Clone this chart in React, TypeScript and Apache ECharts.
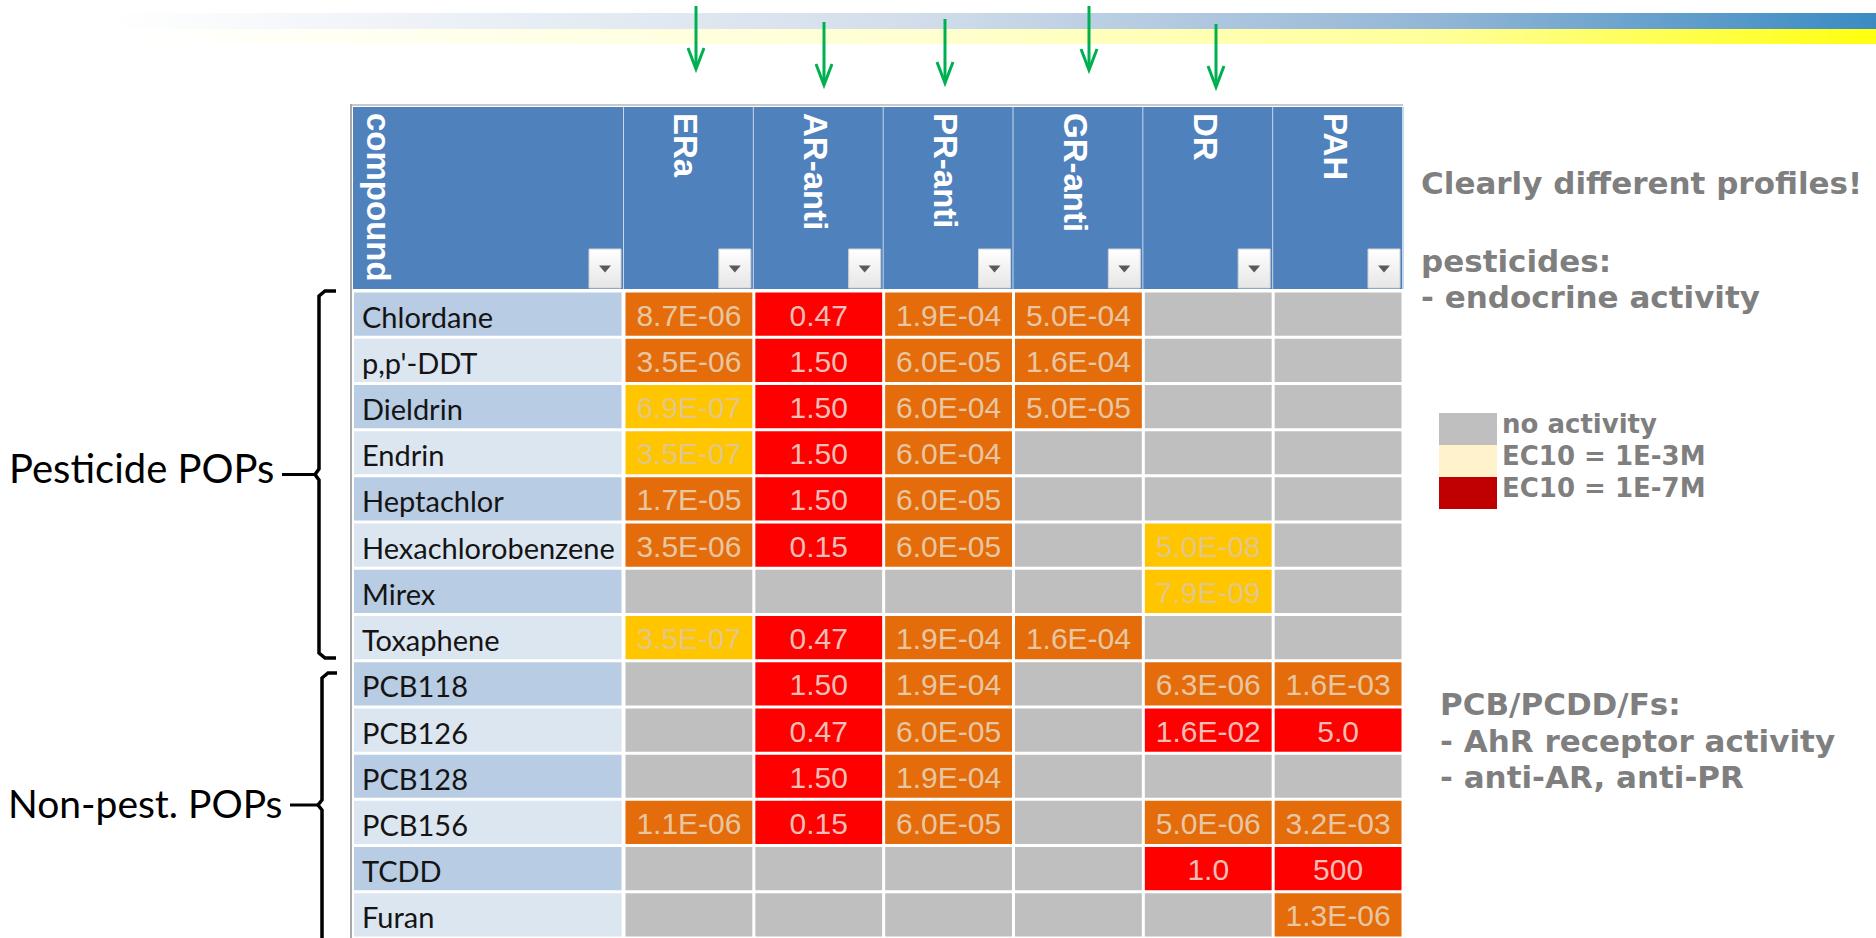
import React, { useEffect, useRef } from "react";
import * as echarts from "echarts";

// ---------- data ----------
const assays = ["ERa", "AR-anti", "PR-anti", "GR-anti", "DR", "PAH"];
const headerTitle = "compound";
const compounds = [
  "Chlordane",
  "p,p'-DDT",
  "Dieldrin",
  "Endrin",
  "Heptachlor",
  "Hexachlorobenzene",
  "Mirex",
  "Toxaphene",
  "PCB118",
  "PCB126",
  "PCB128",
  "PCB156",
  "TCDD",
  "Furan",
];

// effect concentrations per assay (null = no activity)
const eraValues = ["8.7E-06", "3.5E-06", "6.9E-07", "3.5E-07", "1.7E-05", "3.5E-06", null, "3.5E-07", null, null, null, "1.1E-06", null, null];
const arAntiValues = ["0.47", "1.50", "1.50", "1.50", "1.50", "0.15", null, "0.47", "1.50", "0.47", "1.50", "0.15", null, null];
const prAntiValues = ["1.9E-04", "6.0E-05", "6.0E-04", "6.0E-04", "6.0E-05", "6.0E-05", null, "1.9E-04", "1.9E-04", "6.0E-05", "1.9E-04", "6.0E-05", null, null];
const grAntiValues = ["5.0E-04", "1.6E-04", "5.0E-05", null, null, null, null, "1.6E-04", null, null, null, null, null, null];
const drValues = [null, null, null, null, null, "5.0E-08", "7.9E-09", null, "6.3E-06", "1.6E-02", null, "5.0E-06", "1.0", null];
const pahValues = [null, null, null, null, null, null, null, null, "1.6E-03", "5.0", null, "3.2E-03", "500", "1.3E-06"];

// activity class of each cell (o = orange, r = red, y = yellow, null = none)
const eraLevels = ["o", "o", "y", "y", "o", "o", null, "y", null, null, null, "o", null, null];
const arAntiLevels = ["r", "r", "r", "r", "r", "r", null, "r", "r", "r", "r", "r", null, null];
const prAntiLevels = ["o", "o", "o", "o", "o", "o", null, "o", "o", "o", "o", "o", null, null];
const grAntiLevels = ["o", "o", "o", null, null, null, null, "o", null, null, null, null, null, null];
const drLevels = [null, null, null, null, null, "y", "y", null, "o", "r", null, "o", "r", null];
const pahLevels = [null, null, null, null, null, null, null, null, "o", "r", null, "o", "r", "o"];

const valueColumns = [eraValues, arAntiValues, prAntiValues, grAntiValues, drValues, pahValues];
const levelColumns = [eraLevels, arAntiLevels, prAntiLevels, grAntiLevels, drLevels, pahLevels];

const legendLabels = ["no activity", "EC10 = 1E-3M", "EC10 = 1E-7M"];
const notesTop = ["Clearly different profiles!", "pesticides:", "- endocrine activity"];
const notesBottom = ["PCB/PCDD/Fs:", "- AhR receptor activity", "- anti-AR, anti-PR"];
const groupLabels = ["Pesticide POPs", "Non-pest. POPs"];

// ---------- styles ----------
const GRAY = "#BFBFBF";
const LEVEL_FILL: Record<string, string> = { o: "#E46C0A", r: "#FF0000", y: "#FFC600" };
const LEVEL_TEXT: Record<string, string> = { o: "#E8C6A2", r: "#F2BDB6", y: "#E4C684" };
const HEADER_BLUE = "#4F81BD";
const NOTE_GRAY = "#7F7F7F";
const W = 1876;
const H = 938;
const GRID_LEFT = 624;
const GRID_RIGHT = 473;
const GRID_TOP = 291;
const COMPOUND_W = 271;
const HEADER_TOP = 107;
const HEADER_BOTTOM = 289;

const cellData: { label: string | null; level: string | null }[] = [];
const cellPoints: number[][] = [];
valueColumns.forEach((col, c) => {
  col.forEach((v, r) => {
    cellPoints.push([c, r]);
    cellData.push({ label: v, level: levelColumns[c][r] });
  });
});

const headerItems = [headerTitle, ...assays];

function txt(text: string, font: string, fill: string, align = "left", valign = "middle") {
  return { text, font, fill, textAlign: align, textVerticalAlign: valign, align, verticalAlign: valign };
}

function buildOption() {
  const arrows = [
    { x: 696, top: 6, tip: 69 },
    { x: 824, top: 22, tip: 85 },
    { x: 945, top: 19, tip: 83 },
    { x: 1089, top: 6, tip: 70 },
    { x: 1216, top: 24, tip: 87 },
  ];
  const green = "#00B050";
  const graphics: any[] = [];

  graphics.push({
    type: "rect",
    shape: { x: 110, y: 13, width: W - 110, height: 16 },
    style: {
      fill: new echarts.graphic.LinearGradient(0, 0, 1, 0, [
        { offset: 0, color: "#FFFFFF" },
        { offset: 0.45, color: "#D3DEEB" },
        { offset: 0.75, color: "#93B6D6" },
        { offset: 1, color: "#3A8BC3" },
      ]),
    },
  });
  graphics.push({
    type: "rect",
    shape: { x: 140, y: 29, width: W - 140, height: 15 },
    style: {
      fill: new echarts.graphic.LinearGradient(0, 0, 1, 0, [
        { offset: 0, color: "#FFFFFF" },
        { offset: 0.45, color: "#FFFFD0" },
        { offset: 0.75, color: "#FFFF99" },
        { offset: 1, color: "#FFFF10" },
      ]),
    },
  });
  arrows.forEach((a) => {
    graphics.push({
      type: "line",
      shape: { x1: a.x, y1: a.top, x2: a.x, y2: a.tip - 2 },
      style: { stroke: green, lineWidth: 3 },
    });
    graphics.push({
      type: "polyline",
      shape: { points: [[a.x - 8, a.tip - 21], [a.x, a.tip], [a.x + 8, a.tip - 21]] },
      style: { stroke: green, lineWidth: 3, lineJoin: "miter" },
    });
  });

  // table frame lines
  graphics.push({ type: "rect", shape: { x: 350, y: 104, width: 1053, height: 2 }, style: { fill: "#C8C8C8" } });
  graphics.push({ type: "rect", shape: { x: 350, y: 104, width: 2, height: H - 104 }, style: { fill: "#A8A8A8" } });

  // brackets
  graphics.push({
    type: "polyline",
    shape: {
      points: [[336, 291], [325, 291], [319, 296], [319, 469], [315, 474.5], [319, 480], [319, 653], [325, 658], [336, 658]],
    },
    style: { stroke: "#000", lineWidth: 3.5 },
  });
  graphics.push({ type: "line", shape: { x1: 282, y1: 474.5, x2: 316, y2: 474.5 }, style: { stroke: "#000", lineWidth: 3 } });
  graphics.push({
    type: "polyline",
    shape: { points: [[337, 673], [328, 673], [322, 678], [322, 800], [318, 805], [322, 810], [322, 945]] },
    style: { stroke: "#000", lineWidth: 3.5 },
  });
  graphics.push({ type: "line", shape: { x1: 290, y1: 805, x2: 319, y2: 805 }, style: { stroke: "#000", lineWidth: 3 } });
  graphics.push({ type: "text", x: 9, y: 468, style: txt(groupLabels[0], '40px Lato', "#000") });
  graphics.push({ type: "text", x: 8, y: 803, style: txt(groupLabels[1], '39px Lato', "#000") });

  // notes
  const noteFont = 'bold 31px "DejaVu Sans"';
  graphics.push({ type: "text", x: 1421, y: 183, style: txt(notesTop[0], noteFont, NOTE_GRAY) });
  graphics.push({ type: "text", x: 1421, y: 261, style: txt(notesTop[1], noteFont, NOTE_GRAY) });
  graphics.push({ type: "text", x: 1421, y: 297, style: txt(notesTop[2], noteFont, NOTE_GRAY) });
  graphics.push({ type: "text", x: 1440, y: 704, style: txt(notesBottom[0], noteFont, NOTE_GRAY) });
  graphics.push({ type: "text", x: 1440, y: 741, style: txt(notesBottom[1], noteFont, NOTE_GRAY) });
  graphics.push({ type: "text", x: 1440, y: 777, style: txt(notesBottom[2], noteFont, NOTE_GRAY) });

  // legend
  const swatches = [GRAY, "#FFF2CC", "#C00000"];
  swatches.forEach((c, i) => {
    graphics.push({ type: "rect", shape: { x: 1439, y: 413 + i * 32, width: 58, height: 32 }, style: { fill: c } });
    graphics.push({
      type: "text",
      x: 1502,
      y: 424 + i * 32,
      style: txt(legendLabels[i], 'bold 26px "DejaVu Sans"', NOTE_GRAY),
    });
  });

  return {
    animation: false,
    backgroundColor: "#FFFFFF",
    grid: { left: GRID_LEFT, right: GRID_RIGHT, top: GRID_TOP, bottom: 0 },
    xAxis: { type: "category", data: assays, show: false },
    yAxis: { type: "category", data: compounds, inverse: true, show: false },
    graphic: { elements: graphics },
    series: [
      {
        type: "custom",
        name: "header",
        clip: false,
        data: headerItems.map((_, i) => [Math.max(i - 1, 0), 0]),
        renderItem: (params: any, api: any) => {
          const idx = params.dataIndex;
          const bandW = api.size([1, 0])[0];
          let x0: number;
          let w: number;
          let tx: number;
          if (idx === 0) {
            const firstLeft = api.coord([0, 0])[0] - bandW / 2;
            x0 = firstLeft - COMPOUND_W;
            w = COMPOUND_W;
            tx = x0 + 25;
          } else {
            const cx = api.coord([idx - 1, 0])[0];
            x0 = cx - bandW / 2;
            w = bandW;
            tx = cx - 3;
          }
          const bx = x0 + w - 35;
          const by = HEADER_BOTTOM - 40;
          const tcx = bx + 16;
          const tcy = by + 20;
          return {
            type: "group",
            children: [
              { type: "rect", shape: { x: x0, y: HEADER_TOP, width: w, height: HEADER_BOTTOM - HEADER_TOP }, style: { fill: HEADER_BLUE } },
              { type: "rect", shape: { x: x0 + w - 1, y: HEADER_TOP, width: 2, height: HEADER_BOTTOM - HEADER_TOP }, style: { fill: "#C9D7EA" } },
              {
                type: "text",
                x: tx,
                y: HEADER_TOP + 6,
                rotation: -Math.PI / 2,
                style: txt(headerItems[idx], 'bold 33px "Liberation Sans", Arial, sans-serif', "#FFFFFF", "left", "middle"),
              },
              {
                type: "rect",
                shape: { x: bx, y: by, width: 32, height: 39 },
                style: {
                  fill: new echarts.graphic.LinearGradient(0, 0, 0, 1, [
                    { offset: 0, color: "#FFFFFF" },
                    { offset: 1, color: "#E6E6E6" },
                  ]),
                  stroke: "#D0D0D0",
                  lineWidth: 1,
                },
              },
              {
                type: "polygon",
                shape: { points: [[tcx - 6, tcy - 3.5], [tcx + 6, tcy - 3.5], [tcx, tcy + 3.5]] },
                style: { fill: "#5A5A5A" },
              },
            ],
          };
        },
      },
      {
        type: "custom",
        name: "compounds",
        clip: false,
        data: compounds.map((_, i) => [0, i]),
        renderItem: (params: any, api: any) => {
          const r = api.value(1);
          const [bandW, bandH] = api.size([1, 1]);
          const cy = api.coord([0, r])[1];
          const firstLeft = api.coord([0, 0])[0] - bandW / 2;
          const x0 = firstLeft - COMPOUND_W;
          return {
            type: "group",
            children: [
              {
                type: "rect",
                shape: { x: x0 + 1, y: cy - bandH / 2 + 1.5, width: COMPOUND_W - 3.5, height: bandH - 3 },
                style: { fill: r % 2 === 0 ? "#B8CCE4" : "#DCE6F1" },
              },
              {
                type: "text",
                x: x0 + 9,
                y: cy + 2,
                style: txt(compounds[r], "29px Lato", "#141414"),
              },
            ],
          };
        },
      },
      {
        type: "custom",
        name: "cells",
        clip: false,
        data: cellPoints,
        renderItem: (params: any, api: any) => {
          const c = api.value(0);
          const r = api.value(1);
          const [cx, cy] = api.coord([c, r]);
          const [bw, bh] = api.size([1, 1]);
          const cell = cellData[params.dataIndex];
          const fill = cell.level ? LEVEL_FILL[cell.level] : GRAY;
          const children: any[] = [
            { type: "rect", shape: { x: cx - bw / 2 + 1.5, y: cy - bh / 2 + 1.5, width: bw - 3, height: bh - 3 }, style: { fill } },
          ];
          if (cell.label) {
            children.push({
              type: "text",
              x: cx,
              y: cy + 1,
              style: txt(cell.label, '30px "Liberation Sans", Arial, sans-serif', LEVEL_TEXT[cell.level as string], "center", "middle"),
            });
          }
          return { type: "group", children };
        },
      },
    ],
  };
}

export default function App() {
  const ref = useRef<HTMLDivElement>(null);
  useEffect(() => {
    document.body.style.margin = "0";
    if (!ref.current) return;
    const chart = echarts.init(ref.current, null, { renderer: "svg" });
    chart.setOption(buildOption() as any);
    return () => chart.dispose();
  }, []);
  return <div ref={ref} style={{ position: "fixed", left: 0, top: 0, width: W, height: H }} />;
}
